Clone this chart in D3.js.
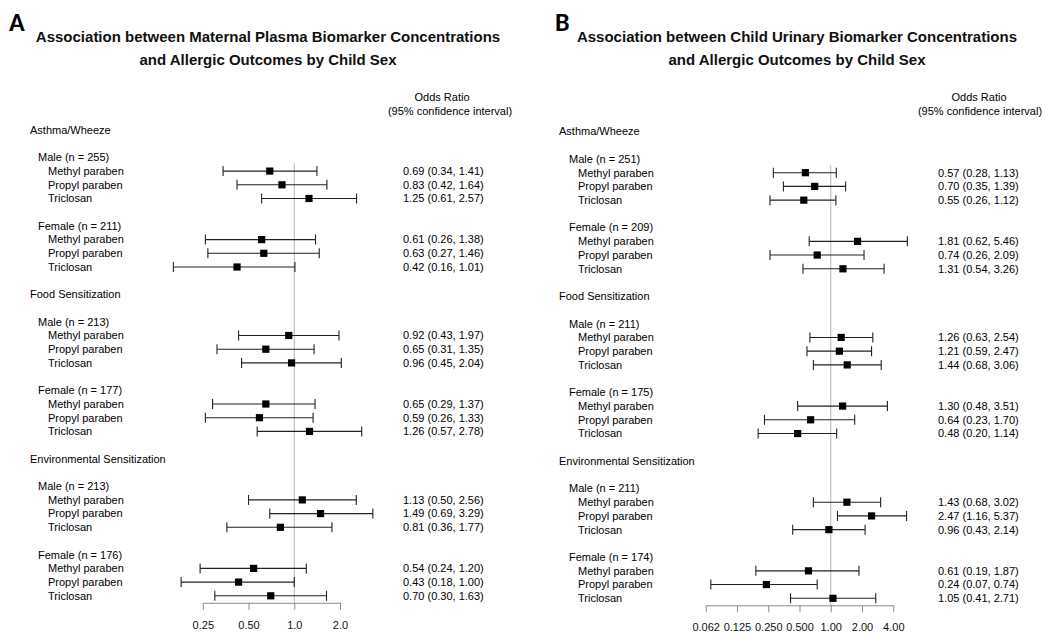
<!DOCTYPE html>
<html>
<head>
<meta charset="utf-8">
<script src="https://cdn.jsdelivr.net/npm/d3@7"></script>
<style>
  html, body { margin: 0; padding: 0; background: #fff; }
  svg { display: block; font-family: "Liberation Sans", Arial, sans-serif; }
</style>
</head>
<body>
<svg id="chart" width="1047" height="635"></svg>
<script>
// ---------- data ----------
const outcomes = ["Asthma/Wheeze", "Food Sensitization", "Environmental Sensitization"];
const sexes = ["Male", "Female"];
const biomarkers = ["Methyl paraben", "Propyl paraben", "Triclosan"];

// Panel A: maternal plasma
const nA  = [255, 211, 213, 177, 213, 176];
const orA = [0.69, 0.83, 1.25, 0.61, 0.63, 0.42, 0.92, 0.65, 0.96, 0.65, 0.59, 1.26, 1.13, 1.49, 0.81, 0.54, 0.43, 0.70];
const loA = [0.34, 0.42, 0.61, 0.26, 0.27, 0.16, 0.43, 0.31, 0.45, 0.29, 0.26, 0.57, 0.50, 0.69, 0.36, 0.24, 0.18, 0.30];
const hiA = [1.41, 1.64, 2.57, 1.38, 1.46, 1.01, 1.97, 1.35, 2.04, 1.37, 1.33, 2.78, 2.56, 3.29, 1.77, 1.20, 1.00, 1.63];
const ticksA = [0.25, 0.5, 1, 2];
const tickLabelsA = ["0.25", "0.50", "1.0", "2.0"];

// Panel B: child urinary
const nB  = [251, 209, 211, 175, 211, 174];
const orB = [0.57, 0.70, 0.55, 1.81, 0.74, 1.31, 1.26, 1.21, 1.44, 1.30, 0.64, 0.48, 1.43, 2.47, 0.96, 0.61, 0.24, 1.05];
const loB = [0.28, 0.35, 0.26, 0.62, 0.26, 0.54, 0.63, 0.59, 0.68, 0.48, 0.23, 0.20, 0.68, 1.16, 0.43, 0.19, 0.07, 0.41];
const hiB = [1.13, 1.39, 1.12, 5.46, 2.09, 3.26, 2.54, 2.47, 3.06, 3.51, 1.70, 1.14, 3.02, 5.37, 2.14, 1.87, 0.74, 2.71];
const ticksB = [0.0625, 0.125, 0.25, 0.5, 1, 2, 4];
const tickLabelsB = ["0.062", "0.125", "0.250", "0.500", "1.00", "2.00", "4.00"];

const svg = d3.select("#chart");

function drawPanel(cfg) {
  const g = svg.append("g");
  const x = d3.scaleLog().domain(cfg.domain).range(cfg.xRange);
  const y = d3.scaleLinear().domain([0, 34]).range(cfg.yRange);
  const axisY = cfg.yRange[1] + 7;

  // panel letter and title
  g.append("text").attr("x", cfg.letterX).attr("y", 31)
    .attr("font-size", 26).attr("font-weight", "bold")
    .attr("font-family", "Carlito, Calibri, 'Liberation Sans', sans-serif")
    .text(cfg.letter);
  cfg.title.forEach((t, i) => {
    g.append("text").attr("x", cfg.titleX).attr("y", 42 + i * 23)
      .attr("text-anchor", "middle").attr("font-size", 15).attr("font-weight", "bold")
      .attr("fill", "#111").text(t);
  });
  g.append("text").attr("x", cfg.orX).attr("y", 97).attr("dy", "0.35em")
    .attr("text-anchor", "middle").attr("font-size", 11).text("Odds Ratio");
  g.append("text").attr("x", cfg.ciX).attr("y", 111).attr("dy", "0.35em")
    .attr("text-anchor", "middle").attr("font-size", 11).text("(95% confidence interval)");

  // reference line at OR = 1
  g.append("line")
    .attr("x1", x(1)).attr("x2", x(1))
    .attr("y1", y(3) - 8).attr("y2", axisY)
    .attr("stroke", "#b4b4b4").attr("stroke-width", 1);

  const rows = [];
  outcomes.forEach((o, oi) => {
    g.append("text").attr("x", cfg.labelX[0]).attr("y", y(oi * 12)).attr("dy", "0.35em")
      .attr("font-size", 11).text(o);
    sexes.forEach((s, si) => {
      const k = oi * 2 + si;
      g.append("text").attr("x", cfg.labelX[1]).attr("y", y(oi * 12 + 2 + si * 5)).attr("dy", "0.35em")
        .attr("font-size", 11).text(`${s} (n = ${cfg.n[k]})`);
      biomarkers.forEach((b, bi) => {
        const idx = k * 3 + bi;
        rows.push({ label: b, row: oi * 12 + 3 + si * 5 + bi,
          or: cfg.or[idx], lo: cfg.lo[idx], hi: cfg.hi[idx] });
      });
    });
  });

  const r = g.selectAll("g.row").data(rows).join("g").attr("class", "row");
  r.append("text").attr("x", cfg.labelX[2]).attr("y", d => y(d.row)).attr("dy", "0.35em")
    .attr("font-size", 11).text(d => d.label);
  r.append("text").attr("x", cfg.valX).attr("y", d => y(d.row)).attr("dy", "0.35em")
    .attr("font-size", 11)
    .text(d => `${d.or.toFixed(2)} (${d.lo.toFixed(2)}, ${d.hi.toFixed(2)})`);
  r.append("line").attr("x1", d => x(d.lo)).attr("x2", d => x(d.hi))
    .attr("y1", d => y(d.row)).attr("y2", d => y(d.row))
    .attr("stroke", "#222").attr("stroke-width", 1.1);
  r.append("line").attr("x1", d => x(d.lo)).attr("x2", d => x(d.lo))
    .attr("y1", d => y(d.row) - 5).attr("y2", d => y(d.row) + 5)
    .attr("stroke", "#222").attr("stroke-width", 1.1);
  r.append("line").attr("x1", d => x(d.hi)).attr("x2", d => x(d.hi))
    .attr("y1", d => y(d.row) - 5).attr("y2", d => y(d.row) + 5)
    .attr("stroke", "#222").attr("stroke-width", 1.1);
  r.append("rect").attr("x", d => x(d.or) - 3.6).attr("y", d => y(d.row) - 3.6)
    .attr("width", 7.2).attr("height", 7.2).attr("fill", "#000");

  // axis
  const axis = d3.axisBottom(x).tickValues(cfg.ticks)
    .tickFormat((d, i) => cfg.tickLabels[i])
    .tickSize(7).tickSizeOuter(0).tickPadding(11);
  const ax = g.append("g").attr("transform", `translate(0,${axisY})`).call(axis);
  ax.select(".domain").attr("stroke", "#8c8c8c");
  ax.selectAll(".tick line").attr("stroke", "#8c8c8c");
  ax.selectAll(".tick text").attr("font-size", 11).attr("fill", "#111")
    .attr("font-family", "'Liberation Sans', Arial, sans-serif");
}

drawPanel({
  letter: "A", letterX: 9, titleX: 268,
  title: ["Association between Maternal Plasma Biomarker Concentrations",
          "and Allergic Outcomes by Child Sex"],
  orX: 442, ciX: 450,
  domain: [0.25, 2], xRange: [202.8, 340],
  yRange: [130, 595.8],
  labelX: [30, 38, 48], valX: 403,
  n: nA, or: orA, lo: loA, hi: hiA, ticks: ticksA, tickLabels: tickLabelsA
});

drawPanel({
  letter: "B", letterX: 555, titleX: 797,
  title: ["Association between Child Urinary Biomarker Concentrations",
          "and Allergic Outcomes by Child Sex"],
  orX: 979, ciX: 980,
  domain: [0.0625, 4], xRange: [705.7, 893.3],
  yRange: [131.5, 598.3],
  labelX: [559, 569, 578], valX: 938,
  n: nB, or: orB, lo: loB, hi: hiB, ticks: ticksB, tickLabels: tickLabelsB
});
</script>
</body>
</html>
